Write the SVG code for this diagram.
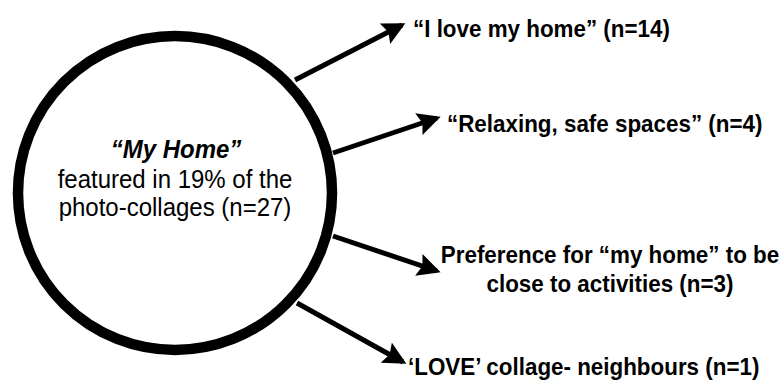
<svg xmlns="http://www.w3.org/2000/svg" width="780" height="381" viewBox="0 0 780 381">
<style>
text{font-family:"Liberation Sans",Arial,sans-serif;fill:#000}
.lbl{font-size:22.4px;font-weight:bold}
.ctr{font-size:24px}
.arr{stroke:#000;stroke-width:5;fill:none}
</style>
<defs>
<marker id="ah" markerWidth="4.6" markerHeight="4.6" refX="5" refY="3" orient="auto" markerUnits="strokeWidth" viewBox="0 0 6 6">
<path d="M0,0 L6,3 L0,6 L1,3 Z" fill="#000"/>
</marker>
</defs>
<rect width="780" height="381" fill="#fff"/>
<g id="connectors">
<line class="arr" x1="295" y1="80" x2="402" y2="25" marker-end="url(#ah)"/>
<line class="arr" x1="333" y1="153" x2="437" y2="118" marker-end="url(#ah)"/>
<line class="arr" x1="333" y1="236" x2="437" y2="271" marker-end="url(#ah)"/>
<line class="arr" x1="297" y1="303" x2="403" y2="362" marker-end="url(#ah)"/>
</g>
<g id="center">
<circle cx="175" cy="193" r="157" fill="#fff" stroke="#000" stroke-width="10.5"/>
<text class="ctr" transform="translate(176,158) scale(1,1.06)" text-anchor="middle" font-weight="bold" font-style="italic">“My Home”</text>
<text class="ctr" transform="translate(175,188) scale(1,1.06)" text-anchor="middle">featured in 19% of the</text>
<text class="ctr" transform="translate(175,216) scale(1,1.06)" text-anchor="middle">photo-collages (n=27)</text>
</g>
<g id="n1"><text class="lbl" transform="translate(413,36.5) scale(1,1.1)">“I love my home” (n=14)</text></g>
<g id="n2"><text class="lbl" transform="translate(447,131.5) scale(1,1.1)">“Relaxing, safe spaces” (n=4)</text></g>
<g id="n3">
<text class="lbl" transform="translate(610,263) scale(1,1.1)" text-anchor="middle">Preference for “my home” to be</text>
<text class="lbl" transform="translate(610,292) scale(1,1.1)" text-anchor="middle">close to activities (n=3)</text>
</g>
<g id="n4"><text class="lbl" transform="translate(408,375) scale(1,1.1)">‘LOVE’ collage- neighbours (n=1)</text></g>
</svg>
